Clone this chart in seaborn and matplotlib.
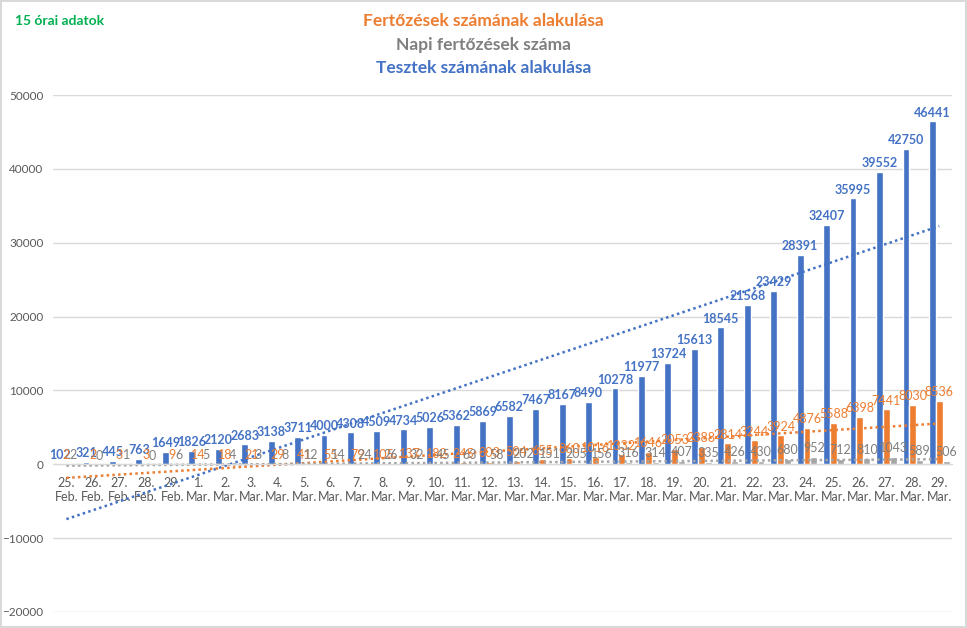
import numpy as np
import pandas as pd
import matplotlib
matplotlib.use("Agg")
import matplotlib.pyplot as plt
import seaborn as sns

days = ['25.\nFeb.', '26.\nFeb.', '27.\nFeb.', '28.\nFeb.', '29.\nFeb.'] + [f'{d}.\nMar.' for d in range(1, 30)]
tests = [102, 321, 445, 763, 1649, 1826, 2120, 2683, 3138, 3711, 4000, 4308, 4509, 4734, 5026,
         5362, 5869, 6582, 7467, 8167, 8490, 10278, 11977, 13724, 15613, 18545, 21568, 23429,
         28391, 32407, 35995, 39552, 42750, 46441]
cases = [2, 2, 3, 3, 9, 14, 18, 21, 29, 41, 55, 79, 105, 137, 182, 245, 303, 504, 655, 860,
         1016, 1332, 1646, 2053, 2388, 2814, 3244, 3924, 4876, 5588, 6398, 7441, 8030, 8536]
daily = [2, 0, 1, 0, 6, 5, 4, 3, 8, 12, 14, 24, 26, 32, 45, 63, 58, 202, 151, 205,
         156, 316, 314, 407, 335, 426, 430, 680, 952, 712, 810, 1043, 589, 506]

series_names = ['Tesztek', 'Fertőzések', 'Napi']
colors = ['#4472C4', '#ED7D31', '#A5A5A5']
label_colors = ['#4472C4', '#ED7D31', '#7F7F7F']

df = pd.DataFrame({
    'nap': days * 3,
    'sorozat': np.repeat(series_names, len(days)),
    'ertek': tests + cases + daily,
})

sns.set_style('white')
plt.rcParams['font.family'] = ['Lato', 'DejaVu Sans']

fig = plt.figure(figsize=(9.67, 6.28), dpi=100)
fig.patch.set_edgecolor('#D9D9D9')
fig.patch.set_linewidth(1.5)
ax = fig.add_axes([0.055, 0.0255, 0.93, 0.8232])

sns.barplot(data=df, x='nap', y='ertek', hue='sorozat', hue_order=series_names,
            palette=colors, width=0.78, legend=False, ax=ax, saturation=1)

for cont, c in zip(ax.containers, label_colors):
    ax.bar_label(cont, padding=2, fontsize=9, color=c,
                 fontweight='bold' if c == '#4472C4' else 'normal')

xs = np.arange(len(days))
for vals, c in zip([tests, cases, daily], colors):
    sns.regplot(x=xs, y=np.array(vals), scatter=False, ci=None, ax=ax, color=c,
                line_kws={'ls': (0, (1, 1.3)), 'lw': 1.8})

ax.set_xlim(-0.5, len(days) - 0.5)
ax.set_ylim(-20000, 50000)
ax.set_yticks(range(-20000, 50001, 10000))
ax.yaxis.grid(True, color='#D9D9D9', lw=1)
ax.set_axisbelow(True)
for s in ['top', 'right', 'left']:
    ax.spines[s].set_visible(False)
ax.spines['bottom'].set_position(('data', 0))
ax.spines['bottom'].set_color('#D9D9D9')
ax.tick_params(axis='y', length=0, labelsize=8.5, colors='#595959', pad=7)
ax.tick_params(axis='x', length=0, labelsize=9, colors='#595959', pad=9)
ax.set_xlabel('')
ax.set_ylabel('')

fig.text(0.016, 0.966, '15 órai adatok', color='#00B050', fontsize=10, fontweight='bold', va='center')
fig.text(0.5, 0.966, 'Fertőzések számának alakulása', color='#ED7D31', fontsize=12.5,
         fontweight='bold', ha='center', va='center')
fig.text(0.5, 0.929, 'Napi fertőzések száma', color='#7F7F7F', fontsize=12.5,
         fontweight='bold', ha='center', va='center')
fig.text(0.5, 0.891, 'Tesztek számának alakulása', color='#4472C4', fontsize=12.5,
         fontweight='bold', ha='center', va='center')

fig.savefig('out.png', dpi=100)
